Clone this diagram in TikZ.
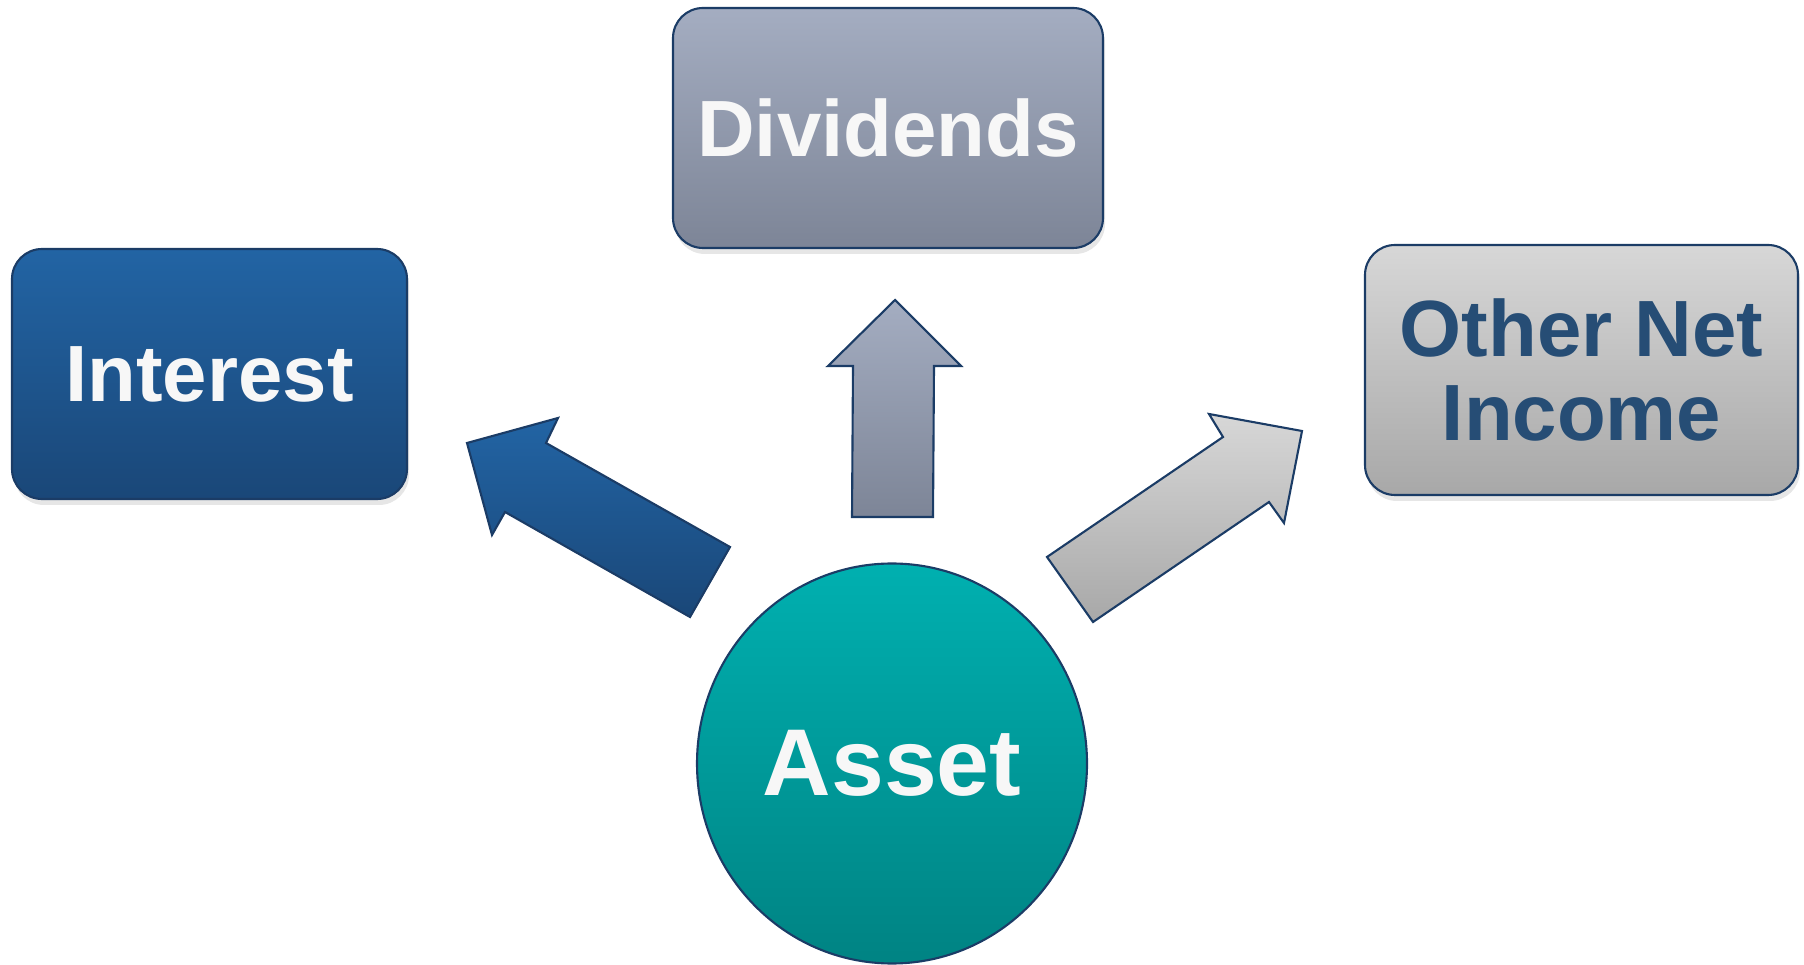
\documentclass[tikz,border=0pt]{standalone}
\usepackage{fontspec}
\setmainfont{Liberation Sans}
\usepackage{xcolor}
\usepackage{tikz}
\usetikzlibrary{shadows}
\usetikzlibrary{positioning,shapes.geometric}

\definecolor{rand}{HTML}{1B3C66}
\definecolor{blauO}{HTML}{2264A4}
\definecolor{blauU}{HTML}{1A4778}
\definecolor{grauO}{HTML}{A4ADC1}
\definecolor{grauU}{HTML}{7D8597}
\definecolor{hellO}{HTML}{D7D7D7}
\definecolor{hellU}{HTML}{A8A8A8}
\definecolor{tuerkisO}{HTML}{00B0B0}
\definecolor{tuerkisU}{HTML}{008383}
\definecolor{schrift}{HTML}{264D75}
\definecolor{weiss}{HTML}{F7F7F7}

\begin{document}
\begin{tikzpicture}[node distance=0cm,
kasten/.style={rectangle,rounded corners=0.3cm,draw=rand,line width=0.6pt,
drop shadow={opacity=0.2,shadow xshift=0.02cm,shadow yshift=-0.06cm},
font=\fontsize{22.7}{24}\selectfont\bfseries,align=center},
pfeil/.style={draw=rand,line width=0.6pt,line join=miter}]
\useasboundingbox (0,0) rectangle (18.04,-9.65);

\node (Interest) [kasten, xshift=2.095cm, yshift=-3.74cm, minimum width=3.95cm,
minimum height=2.5cm, top color=blauO, bottom color=blauU, text=weiss] {Interest};
\node (Dividends) [kasten, xshift=8.88cm, yshift=-1.28cm, minimum width=4.3cm,
minimum height=2.4cm, top color=grauO, bottom color=grauU, text=weiss] {Dividends};
\node (Other) [kasten, xshift=15.815cm, yshift=-3.70cm, minimum width=4.33cm,
minimum height=2.5cm, top color=hellO, bottom color=hellU, text=schrift]
{Other Net\\Income};

\node (Asset) [ellipse, xshift=8.92cm, yshift=-7.635cm, minimum width=3.9cm,
minimum height=4.0cm, inner sep=0pt, draw=rand, line width=0.6pt,
top color=tuerkisO, bottom color=tuerkisU, text=weiss,
font=\fontsize{27}{28}\selectfont\bfseries] {Asset};

\draw[pfeil, top color=blauO, bottom color=blauU] (4.67,-4.43)--(5.58,-4.18)--(5.46,-4.43)
--(7.30,-5.47)--(6.90,-6.17)--(5.05,-5.12)--(4.92,-5.35)--cycle;
\draw[pfeil, top color=grauO, bottom color=grauU] (8.95,-3.00)--(9.61,-3.66)--(9.34,-3.66)
--(9.33,-5.17)--(8.52,-5.17)--(8.53,-3.66)--(8.28,-3.66)--cycle;
\draw[pfeil, top color=hellO, bottom color=hellU] (10.47,-5.57)--(12.23,-4.37)--(12.09,-4.14)
--(13.02,-4.31)--(12.84,-5.23)--(12.69,-5.02)--(10.93,-6.22)--cycle;

\end{tikzpicture}
\end{document}
